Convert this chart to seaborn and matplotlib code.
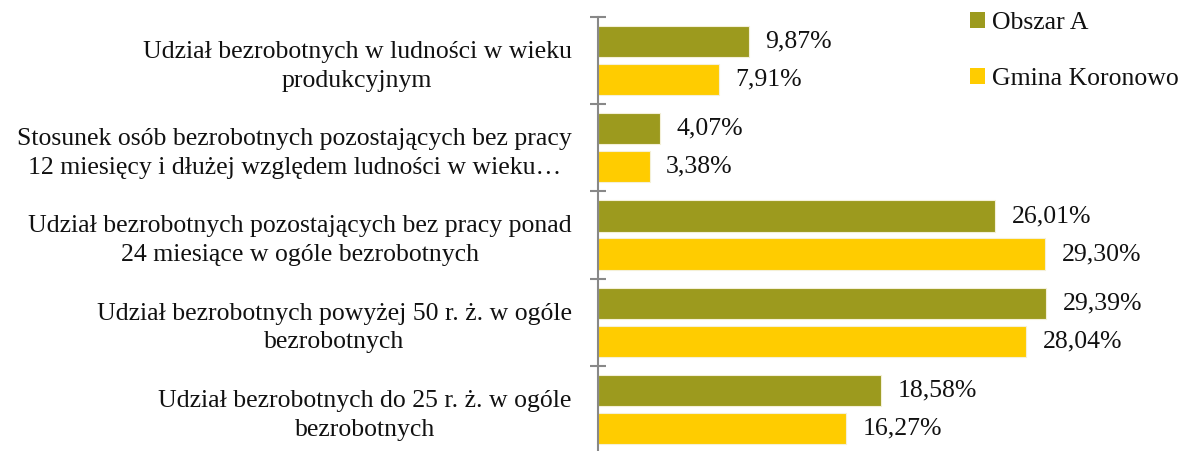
import matplotlib
matplotlib.use("Agg")
import matplotlib.pyplot as plt
import seaborn as sns
import pandas as pd
import numpy as np
from matplotlib.patches import Patch

categories = [
    "Udział bezrobotnych w ludności w wieku\nprodukcyjnym",
    "Stosunek osób bezrobotnych pozostających bez pracy\n12 miesięcy i dłużej względem ludności w wieku…",
    "Udział bezrobotnych pozostających bez pracy ponad\n24 miesiące w ogóle bezrobotnych",
    "Udział bezrobotnych powyżej 50 r. ż. w ogóle\nbezrobotnych",
    "Udział bezrobotnych do 25 r. ż. w ogóle\nbezrobotnych",
]
series_names = ["Obszar A", "Gmina Koronowo"]
obszar_a = [9.87, 4.07, 26.01, 29.39, 18.58]
gmina = [7.91, 3.38, 29.30, 28.04, 16.27]
colors = ["#9C9A1E", "#FFCC00"]

df = pd.DataFrame({
    "cat": categories * 2,
    "series": [series_names[0]] * 5 + [series_names[1]] * 5,
    "value": obszar_a + gmina,
})

sns.set_style("white")
plt.rcParams["font.family"] = ["Liberation Serif", "DejaVu Serif"]

FS = 18.5
fig = plt.figure(figsize=(12.01, 4.51), dpi=100)
ax = fig.add_axes([598 / 1201, -0.0044, (1132 - 598) / 1201, 0.9667])

sns.barplot(data=df, y="cat", x="value", hue="series", orient="h",
            palette=colors, saturation=1, width=0.872, gap=0.18, ax=ax,
            edgecolor="#f4f0d8", linewidth=0.8, legend=False)

ax.set_xlim(0, 35)
ax.set_ylim(4.5, -0.5)
for s in ["top", "right", "bottom"]:
    ax.spines[s].set_visible(False)
ax.spines["left"].set_color("#888888")
ax.spines["left"].set_linewidth(1.5)
ax.set_xticks([])
ax.set_xlabel("")
ax.set_ylabel("")

ax.set_yticks(range(5))
ax.set_yticklabels(categories, fontsize=FS, multialignment="center", color="#111111",
                   linespacing=1.4)
ax.tick_params(axis="y", which="major", left=False, length=0, pad=19)
ax.set_yticks(np.arange(-0.5, 5.0, 1.0), minor=True)
ax.tick_params(axis="y", which="minor", left=True, direction="inout", length=12,
               width=1.5, color="#888888")

for container in ax.containers:
    labels = [f"{v:.2f}%".replace(".", ",") for v in container.datavalues]
    ax.bar_label(container, labels=labels, padding=12, fontsize=FS, color="#111111")

handles = [Patch(facecolor=c, edgecolor="none") for c in colors]
fig.legend(handles, series_names, loc="upper left", bbox_to_anchor=(970 / 1201, 1.0 - 12 / 451),
           frameon=False, fontsize=FS, handlelength=0.6, handleheight=0.6,
           handletextpad=0.25, labelspacing=1.3, borderpad=0, borderaxespad=0,
           labelcolor="#111111")

fig.savefig("out.png", dpi=100)
